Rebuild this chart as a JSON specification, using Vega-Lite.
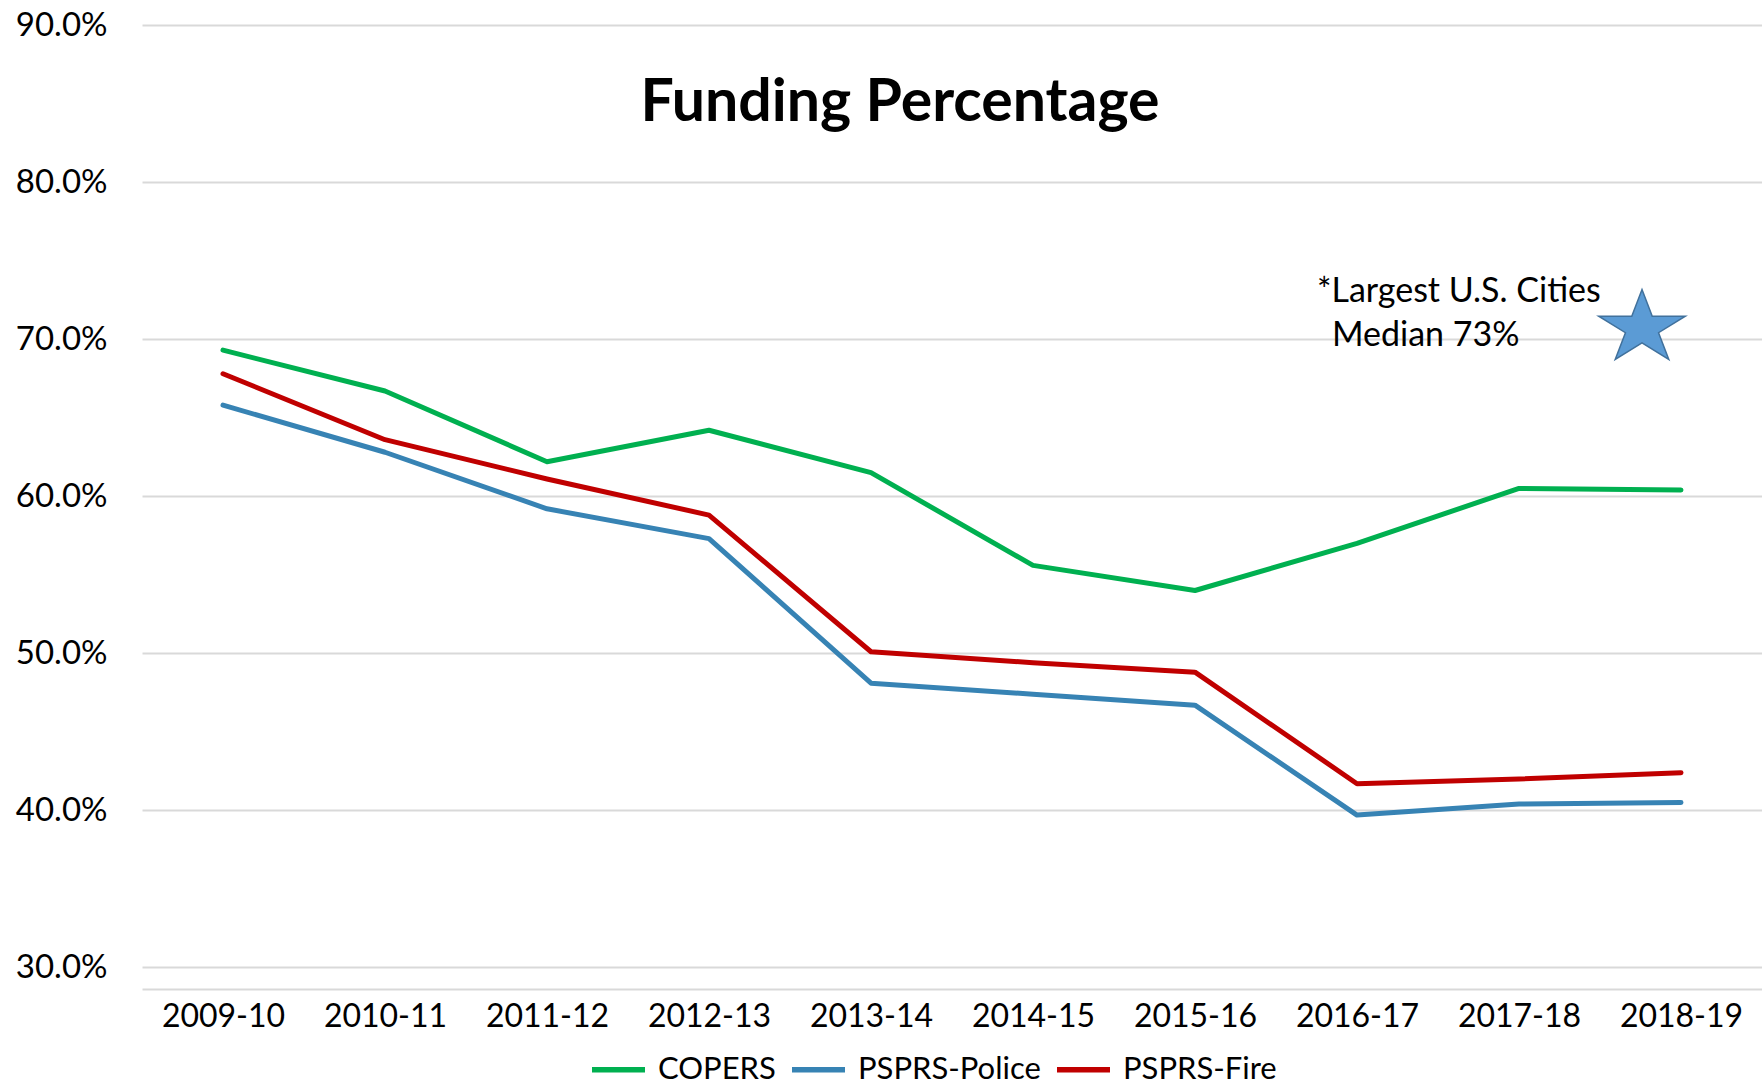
{
  "$schema": "https://vega.github.io/schema/vega-lite/v6.json",
  "width": 1620,
  "height": 964,
  "autosize": {"type": "none"},
  "padding": {"left": 142, "top": 25, "right": 0, "bottom": 97},
  "background": "white",
  "title": {
    "text": "Funding Percentage",
    "font": "Lato",
    "fontSize": 59,
    "fontWeight": "bold",
    "color": "black",
    "anchor": "middle",
    "baseline": "alphabetic",
    "offset": 0,
    "dx": -52,
    "dy": 171
  },
  "datasets": {
    "series": [
      {"year": "2009-10", "plan": "COPERS", "value": 0.693},
      {"year": "2010-11", "plan": "COPERS", "value": 0.667},
      {"year": "2011-12", "plan": "COPERS", "value": 0.622},
      {"year": "2012-13", "plan": "COPERS", "value": 0.642},
      {"year": "2013-14", "plan": "COPERS", "value": 0.615},
      {"year": "2014-15", "plan": "COPERS", "value": 0.556},
      {"year": "2015-16", "plan": "COPERS", "value": 0.540},
      {"year": "2016-17", "plan": "COPERS", "value": 0.570},
      {"year": "2017-18", "plan": "COPERS", "value": 0.605},
      {"year": "2018-19", "plan": "COPERS", "value": 0.604},
      {"year": "2009-10", "plan": "PSPRS-Police", "value": 0.658},
      {"year": "2010-11", "plan": "PSPRS-Police", "value": 0.628},
      {"year": "2011-12", "plan": "PSPRS-Police", "value": 0.592},
      {"year": "2012-13", "plan": "PSPRS-Police", "value": 0.573},
      {"year": "2013-14", "plan": "PSPRS-Police", "value": 0.481},
      {"year": "2014-15", "plan": "PSPRS-Police", "value": 0.474},
      {"year": "2015-16", "plan": "PSPRS-Police", "value": 0.467},
      {"year": "2016-17", "plan": "PSPRS-Police", "value": 0.397},
      {"year": "2017-18", "plan": "PSPRS-Police", "value": 0.404},
      {"year": "2018-19", "plan": "PSPRS-Police", "value": 0.405},
      {"year": "2009-10", "plan": "PSPRS-Fire", "value": 0.678},
      {"year": "2010-11", "plan": "PSPRS-Fire", "value": 0.636},
      {"year": "2011-12", "plan": "PSPRS-Fire", "value": 0.611},
      {"year": "2012-13", "plan": "PSPRS-Fire", "value": 0.588},
      {"year": "2013-14", "plan": "PSPRS-Fire", "value": 0.501},
      {"year": "2014-15", "plan": "PSPRS-Fire", "value": 0.494},
      {"year": "2015-16", "plan": "PSPRS-Fire", "value": 0.488},
      {"year": "2016-17", "plan": "PSPRS-Fire", "value": 0.417},
      {"year": "2017-18", "plan": "PSPRS-Fire", "value": 0.420},
      {"year": "2018-19", "plan": "PSPRS-Fire", "value": 0.424}
    ],
    "star": [{"year": "2018-19", "value": 0.707}],
    "note1": [{"year": "2016-17", "value": 0.73, "label": "*Largest U.S. Cities"}],
    "note2": [{"year": "2016-17", "value": 0.73, "label": "Median 73%"}]
  },
  "layer": [
    {
      "data": {"name": "series"},
      "mark": {"type": "line", "strokeWidth": 5, "strokeCap": "round", "strokeJoin": "round"},
      "encoding": {
        "x": {
          "field": "year", "type": "ordinal",
          "scale": {"type": "point", "padding": 0.5},
          "axis": {
            "title": null, "labelAngle": 0, "labelFont": "Lato", "labelFontSize": 32,
            "labelColor": "black", "labelPadding": 12, "ticks": false, "grid": false,
            "domain": true, "domainColor": "#D9D9D9", "domainWidth": 2
          }
        },
        "y": {
          "field": "value", "type": "quantitative",
          "scale": {"domain": [0.2863, 0.9], "nice": false, "zero": false},
          "axis": {
            "title": null, "values": [0.3, 0.4, 0.5, 0.6, 0.7, 0.8, 0.9], "format": ".1%",
            "labelFont": "Lato", "labelFontSize": 33, "labelColor": "black", "labelPadding": 35,
            "ticks": false, "domain": false, "grid": true, "gridColor": "#D9D9D9", "gridWidth": 2
          }
        },
        "color": {
          "field": "plan", "type": "nominal",
          "scale": {"domain": ["COPERS", "PSPRS-Police", "PSPRS-Fire"], "range": ["#00B050", "#3783B4", "#C00000"]},
          "legend": {
            "title": null, "orient": "none", "legendX": 447, "legendY": 1015, "direction": "horizontal",
            "symbolType": "stroke", "symbolSize": 2809, "symbolStrokeWidth": 5.5,
            "labelFont": "Lato", "labelFontSize": 31, "labelColor": "black", "labelLimit": 500,
            "labelOffset": 10, "columnPadding": 5
          }
        }
      }
    },
    {
      "data": {"name": "star"},
      "mark": {
        "type": "point",
        "shape": "M0,-0.848L0.2245,-0.262L0.951,-0.262L0.3633,0.1L0.588,0.686L0,0.324L-0.588,0.686L-0.3633,0.1L-0.951,-0.262L-0.2245,-0.262Z",
        "filled": true, "fill": "#5B9BD5", "stroke": "#41719C", "strokeWidth": 1.5, "opacity": 1,
        "size": 8300, "xOffset": -39
      },
      "encoding": {
        "x": {"field": "year", "type": "ordinal"},
        "y": {"field": "value", "type": "quantitative"}
      }
    },
    {
      "data": {"name": "note1"},
      "mark": {"type": "text", "align": "left", "baseline": "alphabetic", "font": "Lato", "fontSize": 34, "color": "black", "dx": -40, "dy": 10},
      "encoding": {
        "x": {"field": "year", "type": "ordinal"},
        "y": {"field": "value", "type": "quantitative"},
        "text": {"field": "label"}
      }
    },
    {
      "data": {"name": "note2"},
      "mark": {"type": "text", "align": "left", "baseline": "alphabetic", "font": "Lato", "fontSize": 34, "color": "black", "dx": -25, "dy": 54},
      "encoding": {
        "x": {"field": "year", "type": "ordinal"},
        "y": {"field": "value", "type": "quantitative"},
        "text": {"field": "label"}
      }
    }
  ],
  "config": {
    "view": {"stroke": null}
  }
}
